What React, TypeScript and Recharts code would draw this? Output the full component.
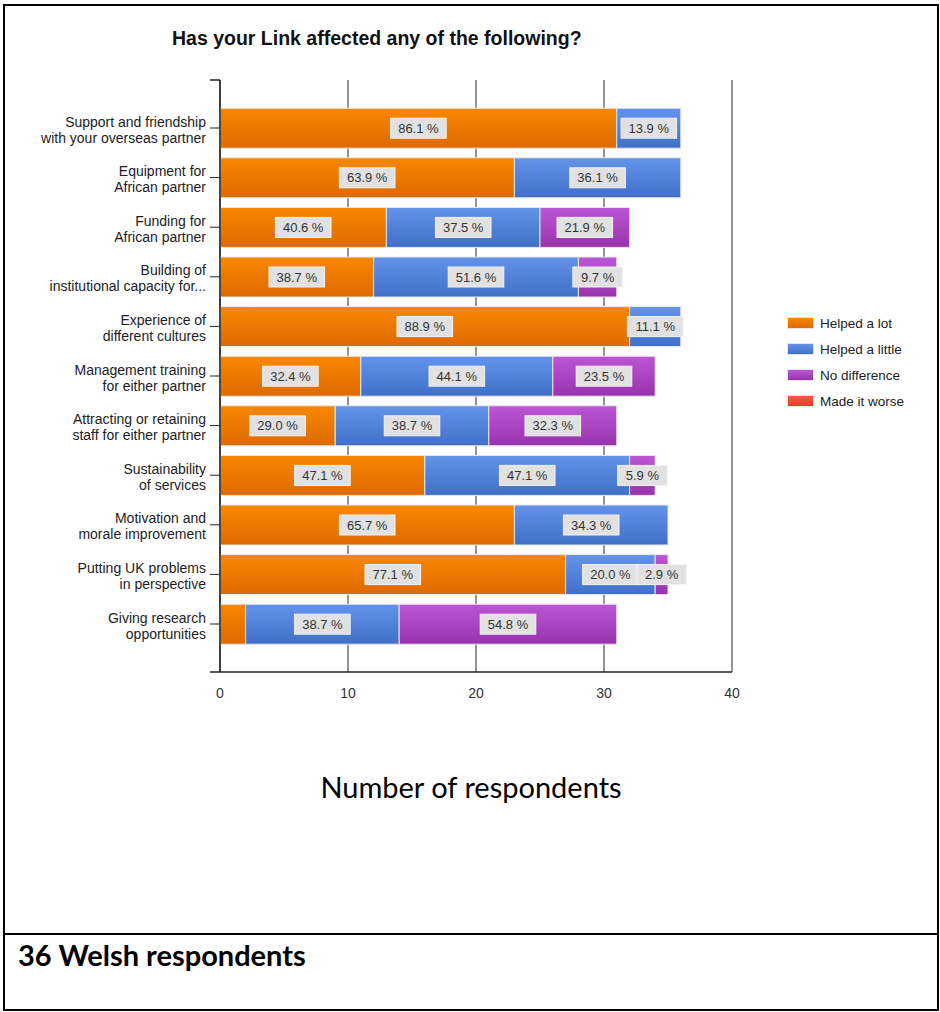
import React from 'react';
import { BarChart, Bar, XAxis, YAxis, CartesianGrid, Legend, LabelList } from 'recharts';

const categories = [
  'Support and friendship|with your overseas partner',
  'Equipment for|African partner',
  'Funding for|African partner',
  'Building of|institutional capacity for...',
  'Experience of|different cultures',
  'Management training|for either partner',
  'Attracting or retaining|staff for either partner',
  'Sustainability|of services',
  'Motivation and|morale improvement',
  'Putting UK problems|in perspective',
  'Giving research|opportunities',
];
const helpedLot = [31, 23, 13, 12, 32, 11, 9, 16, 23, 27, 2];
const helpedLittle = [5, 13, 12, 16, 4, 15, 12, 16, 12, 7, 12];
const noDifference = [0, 0, 7, 3, 0, 8, 10, 2, 0, 1, 17];
const madeWorse = [0, 0, 0, 0, 0, 0, 0, 0, 0, 0, 0];
const pctLot = [86.1, 63.9, 40.6, 38.7, 88.9, 32.4, 29.0, 47.1, 65.7, 77.1, null];
const pctLittle = [13.9, 36.1, 37.5, 51.6, 11.1, 44.1, 38.7, 47.1, 34.3, 20.0, 38.7];
const pctNoDiff = [null, null, 21.9, 9.7, null, 23.5, 32.3, 5.9, null, 2.9, 54.8];
const xTicks = [0, 10, 20, 30, 40];
const seriesNames = ['Helped a lot', 'Helped a little', 'No difference', 'Made it worse'];

const data = categories.map((c, i) => ({
  name: c,
  lot: helpedLot[i],
  little: helpedLittle[i],
  nodiff: noDifference[i],
  worse: madeWorse[i],
  pLot: pctLot[i],
  pLittle: pctLittle[i],
  pNoDiff: pctNoDiff[i],
}));

const FONT = '"Liberation Sans", Arial, sans-serif';
const gradIds = ['gOrange', 'gBlue', 'gPurple', 'gRed'];
const gradStops: [string, string][] = [
  ['#FA8700', '#DC6A00'],
  ['#6494EA', '#3F6FC6'],
  ['#BC56D6', '#9833AC'],
  ['#EE5A42', '#DC4630'],
];

// chart frame
const CHART_W = 940;
const CHART_H = 720;
const M_TOP = 80;
const Y_AXIS_W = 220;
const X_AXIS_H = 30;
const M_BOTTOM = 18;
const PLOT_BOTTOM = CHART_H - M_BOTTOM - X_AXIS_H;
const TICK = 10;

const PctLabel = (props: any) => {
  const { x, y, width, height, value } = props;
  if (value === null || value === undefined) return null;
  const txt = `${Number(value).toFixed(1)} %`;
  const w = txt.length * 6.1 + 19;
  const h = 20;
  const cx = Number(x) + Number(width) / 2;
  const cy = Number(y) + Number(height) / 2;
  return (
    <g>
      <rect x={cx - w / 2} y={cy - h / 2} width={w} height={h} fill="#e1e1e1" stroke="#f2f2f2" strokeWidth={1} />
      <text x={cx} y={cy + 4.5} textAnchor="middle" fontFamily={FONT} fontSize={13} fill="#333">
        {txt}
      </text>
    </g>
  );
};

const YTick = (props: any) => {
  const { x, y, payload } = props;
  const lines = String(payload.value).split('|');
  return (
    <text x={x} y={y} textAnchor="end" fontFamily={FONT} fontSize={14} fill="#1c1c24">
      {lines.map((l, i) => (
        <tspan key={i} x={x} dy={i === 0 ? -1.5 : 16}>
          {l}
        </tspan>
      ))}
    </text>
  );
};

const LegendContent = () => (
  <div style={{ fontFamily: FONT, fontSize: 13.5, color: '#1c1c24' }}>
    {seriesNames.map((n, i) => (
      <div key={n} style={{ display: 'flex', alignItems: 'center', height: 26 }}>
        <div
          style={{
            width: 25,
            height: 10,
            marginRight: 6,
            background: `linear-gradient(${gradStops[i][0]}, ${gradStops[i][1]})`,
            border: '1px solid #e4e4e4',
          }}
        />
        <span>{n}</span>
      </div>
    ))}
  </div>
);

export default function App() {
  return (
    <div style={{ position: 'absolute', left: 0, top: 0, width: 940, height: 1012, background: '#fff' }}>
      <div style={{ position: 'absolute', left: 3, top: 4, width: 932, height: 1003, border: '2px solid #000' }} />
      <div style={{ position: 'absolute', left: 3, top: 933, width: 936, height: 2, background: '#000' }} />
      <div
        style={{
          position: 'absolute',
          left: 172,
          top: 27,
          fontFamily: FONT,
          fontWeight: 'bold',
          fontSize: 19.5,
          lineHeight: '22px',
          color: '#111',
          whiteSpace: 'nowrap',
        }}
      >
        Has your Link affected any of the following?
      </div>
      <div style={{ position: 'absolute', left: 0, top: 0 }}>
        <BarChart
          width={CHART_W}
          height={CHART_H}
          data={data}
          layout="vertical"
          margin={{ top: M_TOP, right: 58, bottom: M_BOTTOM, left: 0 }}
        >
          <defs>
            {gradIds.map((id, i) => (
              <linearGradient key={id} id={id} x1="0" y1="0" x2="0" y2="1">
                <stop offset="0%" stopColor={gradStops[i][0]} />
                <stop offset="100%" stopColor={gradStops[i][1]} />
              </linearGradient>
            ))}
          </defs>
          <CartesianGrid horizontal={false} vertical stroke="#4d4d4d" strokeWidth={1.2} />
          <XAxis
            type="number"
            domain={[0, 40]}
            ticks={xTicks}
            height={X_AXIS_H}
            tickLine={false}
            tickSize={10}
            tickMargin={6}
            axisLine={{ stroke: '#222', strokeWidth: 1.5 }}
            tick={{ fontFamily: FONT, fontSize: 14, fill: '#333' }}
          />
          <YAxis
            type="category"
            dataKey="name"
            width={Y_AXIS_W}
            padding={{ top: 23.2, bottom: 23.2 }}
            tickSize={TICK}
            tickMargin={4}
            tickLine={{ stroke: '#222' }}
            axisLine={{ stroke: '#222', strokeWidth: 1.5 }}
            tick={<YTick />}
            interval={0}
          />
          <Legend
            layout="horizontal"
            verticalAlign="middle"
            align="right"
            content={<LegendContent />}
            wrapperStyle={{ left: 787, top: 310, width: 150 }}
          />
          <Bar dataKey="lot" name={seriesNames[0]} stackId="a" barSize={40} fill="url(#gOrange)" stroke="#e8e8e8" strokeWidth={1} isAnimationActive={false}>
            <LabelList dataKey="pLot" content={<PctLabel />} />
          </Bar>
          <Bar dataKey="little" name={seriesNames[1]} stackId="a" barSize={40} fill="url(#gBlue)" stroke="#e8e8e8" strokeWidth={1} isAnimationActive={false}>
            <LabelList dataKey="pLittle" content={<PctLabel />} />
          </Bar>
          <Bar dataKey="nodiff" name={seriesNames[2]} stackId="a" barSize={40} fill="url(#gPurple)" stroke="#e8e8e8" strokeWidth={1} isAnimationActive={false}>
            <LabelList dataKey="pNoDiff" content={<PctLabel />} />
          </Bar>
          <Bar dataKey="worse" name={seriesNames[3]} stackId="a" barSize={40} fill="url(#gRed)" stroke="#e8e8e8" strokeWidth={1} isAnimationActive={false} />
          <g>
            <line x1={Y_AXIS_W - TICK} y1={M_TOP} x2={Y_AXIS_W} y2={M_TOP} stroke="#222" strokeWidth={1.5} />
            <line x1={Y_AXIS_W - TICK} y1={PLOT_BOTTOM} x2={Y_AXIS_W} y2={PLOT_BOTTOM} stroke="#222" strokeWidth={1.5} />
          </g>
        </BarChart>
      </div>
      <div
        style={{
          position: 'absolute',
          left: 0,
          width: 942,
          top: 769,
          textAlign: 'center',
          fontFamily: 'Lato, "Open Sans", sans-serif',
          fontSize: 29,
          lineHeight: '36px',
          color: '#000',
        }}
      >
        Number of respondents
      </div>
      <div
        style={{
          position: 'absolute',
          left: 18,
          top: 937,
          fontFamily: 'Lato, "Open Sans", sans-serif',
          fontWeight: 'bold',
          fontSize: 29,
          lineHeight: '36px',
          color: '#000',
        }}
      >
        36 Welsh respondents
      </div>
    </div>
  );
}
